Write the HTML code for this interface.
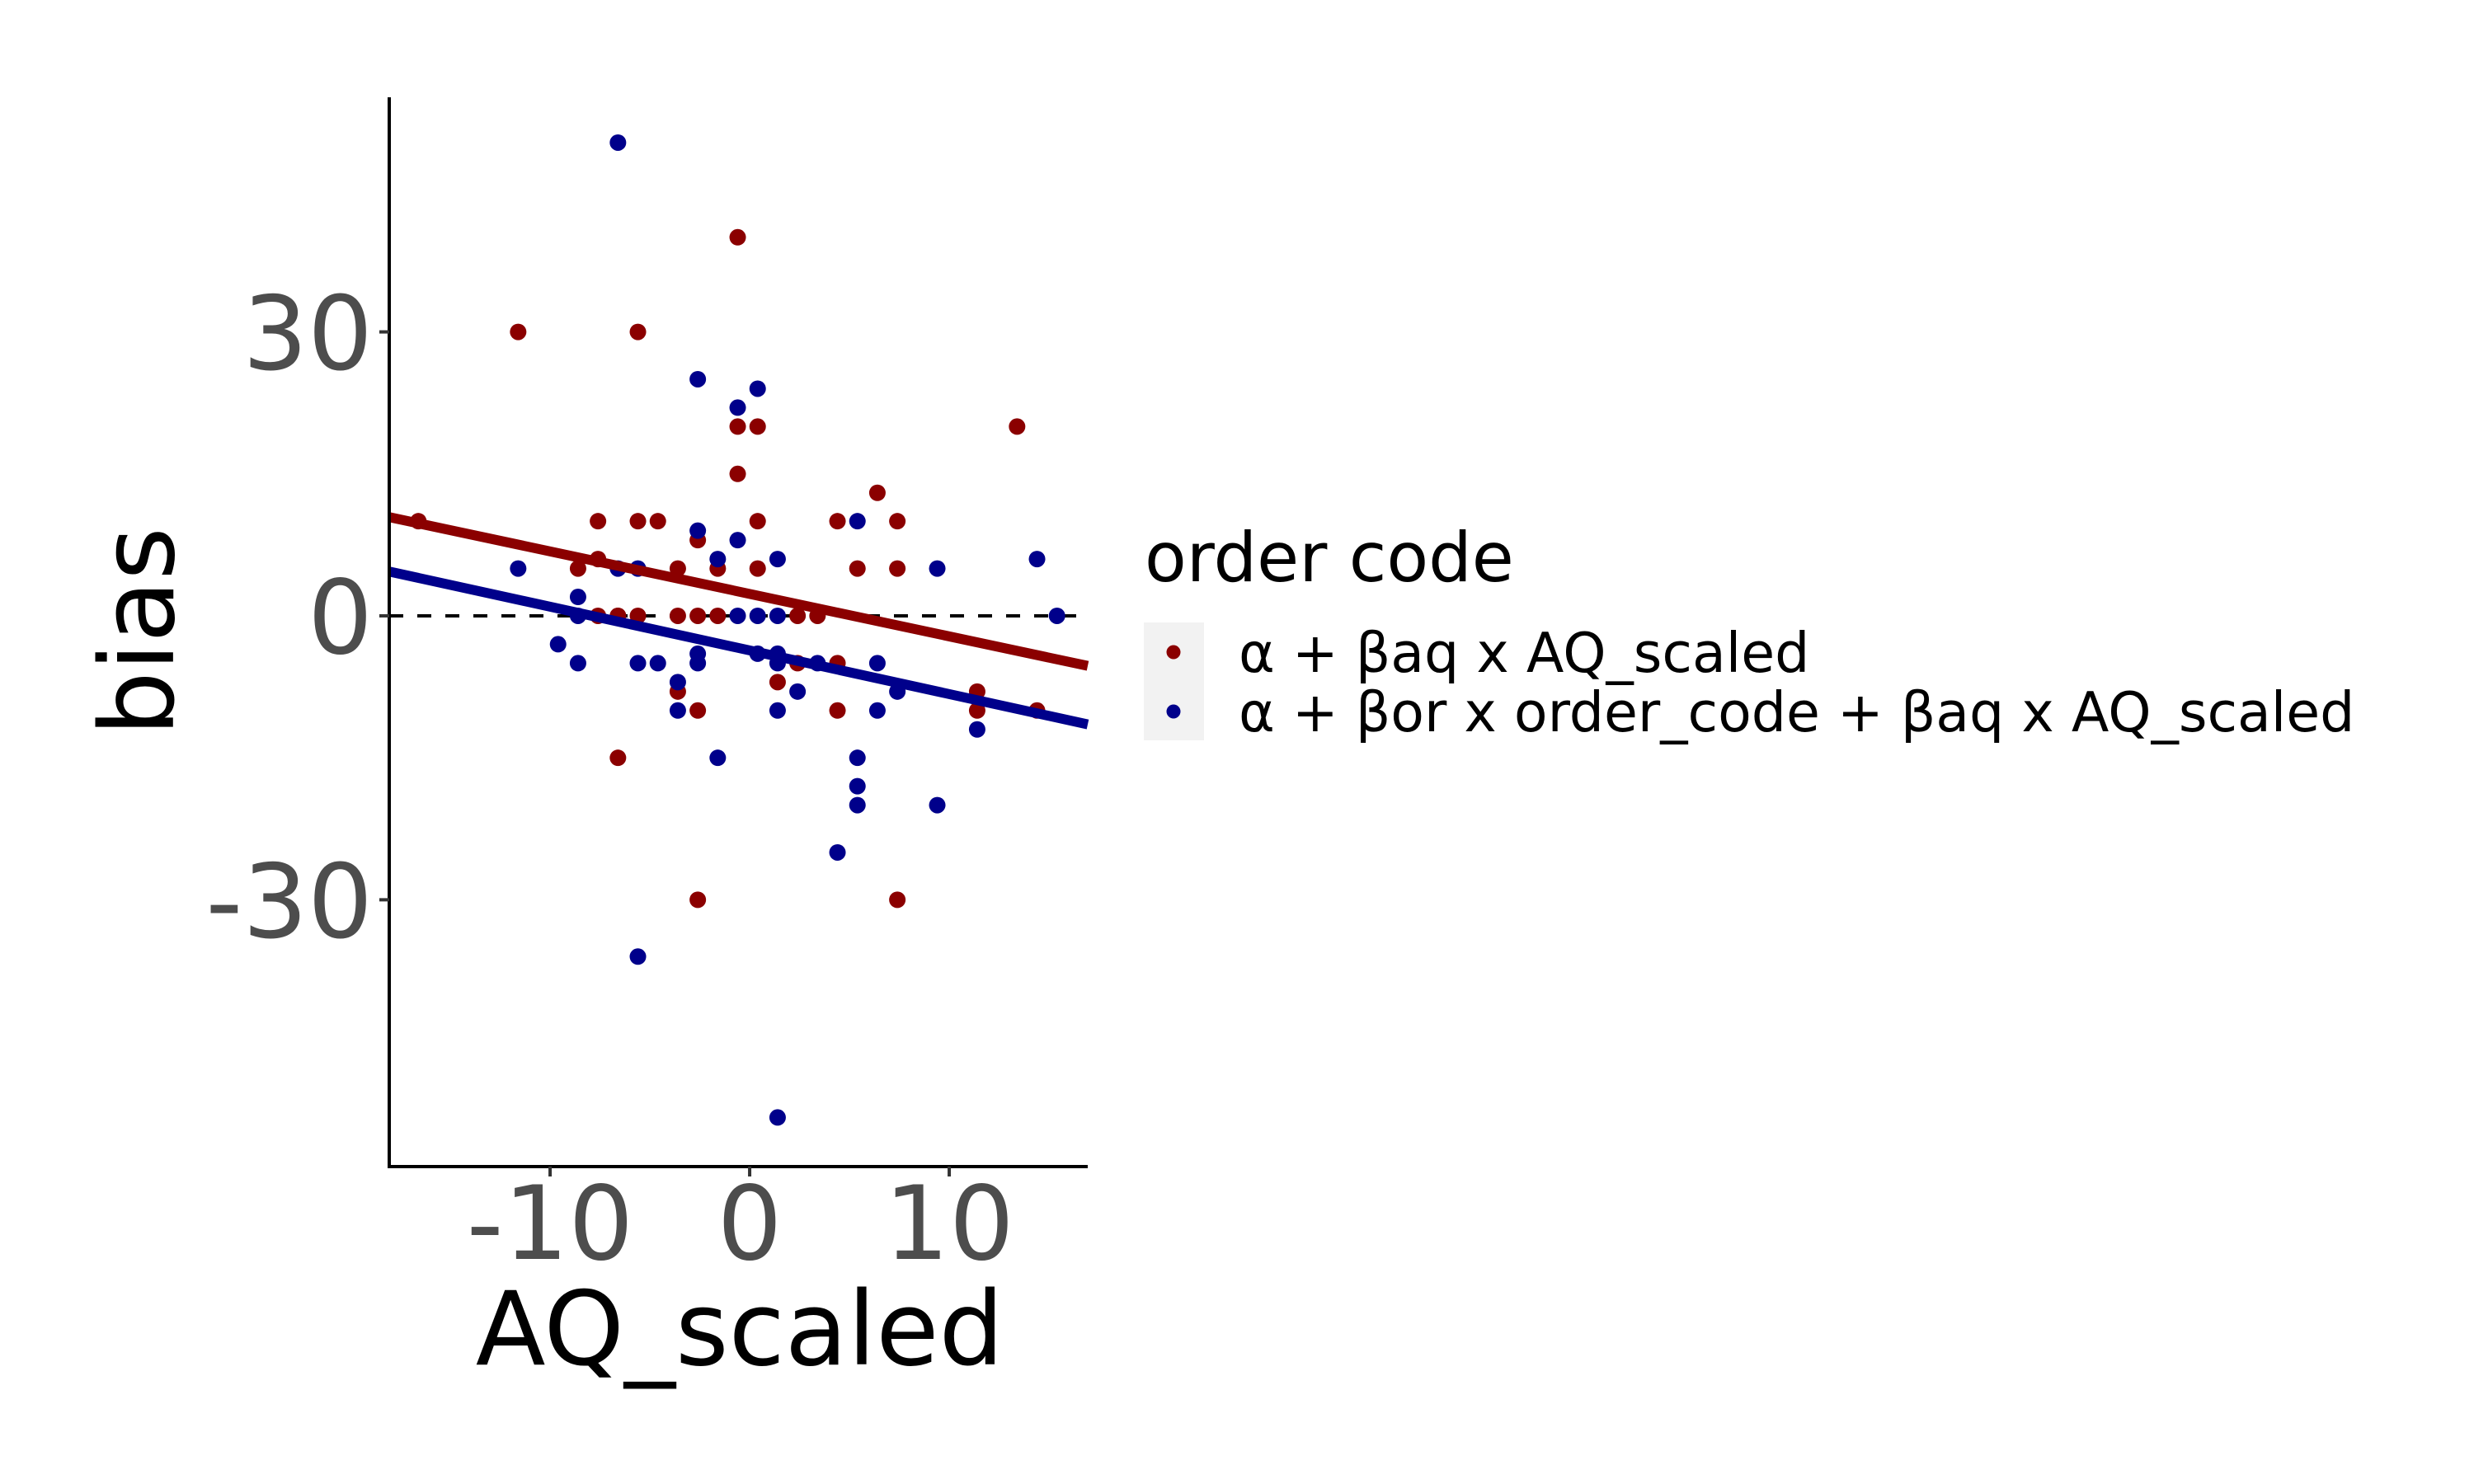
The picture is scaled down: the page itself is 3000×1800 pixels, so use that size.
<!DOCTYPE html>
<html><head><meta charset="utf-8"><style>
html,body{margin:0;padding:0;background:#fff;}
svg{display:block;font-family:"DejaVu Sans","Liberation Sans",sans-serif;}
</style></head><body>
<svg id="chart" width="3000" height="1800" viewBox="0 0 3000 1800" xmlns="http://www.w3.org/2000/svg">
<rect x="0" y="0" width="3000" height="1800" fill="#fff"/>
<g id="plot"></g>
<g id="axes"></g>
<text x="897" y="1655" font-size="124" text-anchor="middle" fill="#000">AQ_scaled</text>
<text transform="translate(210,766) rotate(-90)" font-size="124" text-anchor="middle" fill="#000">bias</text>
<g>
<text x="1388" y="705" font-size="83" fill="#000">order code</text>
<rect x="1387" y="755" width="73" height="143" fill="#f2f2f2"/>
<g>
<circle cx="1423" cy="791" r="8.5" fill="#8b0000"/>
<text x="1502" y="815" font-size="66.5" fill="#000">α + βaq x AQ_scaled</text>
</g>
<g>
<circle cx="1423" cy="863" r="8.5" fill="#00008b"/>
<text x="1502" y="887" font-size="66.5" fill="#000">α + βor x order_code + βaq x AQ_scaled</text>
</g>
</g>
</svg>
<script>
const redX = [-6.6,-0.6,-11.6,-5.6,-0.6,0.4,13.4,-0.6,6.4,-16.6,-7.6,-5.6,-4.6,0.4,4.4,7.4,-2.6,-7.6,-8.6,-3.6,-1.6,0.4,5.4,7.4,-7.6,-6.6,-5.6,-3.6,-2.6,-1.6,2.4,3.4,2.4,4.4,1.4,-3.6,11.4,-2.6,4.4,11.4,14.4,-6.6,-2.6,7.4];
const redY = [0,40,30,30,20,20,20,15,13,10,10,10,10,10,10,10,8,6,5,5,5,5,5,5,0,0,0,0,0,0,0,0,-5,-5,-7,-8,-8,-10,-10,-10,-10,-15,-30,-30];
const blueX = [-6.6,-2.6,0.4,-0.6,5.4,-2.6,-0.6,-1.6,1.4,14.4,-11.6,-6.6,-5.6,9.4,-8.6,-8.6,-0.6,0.4,1.4,15.4,-9.6,-2.6,0.4,1.4,-8.6,-5.6,-4.6,-2.6,1.4,3.4,6.4,-3.6,2.4,7.4,-3.6,1.4,6.4,11.4,-1.6,5.4,5.4,5.4,9.4,4.4,-5.6,1.4];
const blueY = [50,25,24,22,10,9,8,6,6,6,5,5,5,5,2,0,0,0,0,0,-3,-4,-4,-4,-5,-5,-5,-5,-5,-5,-5,-7,-8,-8,-10,-10,-10,-12,-15,-15,-18,-20,-20,-25,-36,-53];
const lineNames = ["red-fit-line","blue-fit-line"];
const lineIntercepts = [2.32,-3.65];
const lineSlopes = [-0.449,-0.4615];
const xTicks = [-10,0,10];
const xTickLabels = ["-10","0","10"];
const yTicks = [30,0,-30];
const yTickLabels = ["30","0","-30"];

const X0=472, X1=1319, Y0=118, Y1=1415;
const xMin=-18.06, xMax=16.94, yMin=-58.19, yMax=54.79;
function sx(v){return X0+(v-xMin)/(xMax-xMin)*(X1-X0);}
function sy(v){return Y1-(v-yMin)/(yMax-yMin)*(Y1-Y0);}
const NS="http://www.w3.org/2000/svg";
function mk(tag,attrs,parent){const e=document.createElementNS(NS,tag);for(const k in attrs)e.setAttribute(k,attrs[k]);parent.appendChild(e);return e;}
const plot=document.getElementById('plot');
const axes=document.getElementById('axes');

const zl=mk('line',{x1:X0,x2:X1,y1:sy(0),y2:sy(0),stroke:'#000','stroke-width':4,'stroke-dasharray':'17 17'},plot);



const colors=['#8b0000','#00008b'];
for(let i=0;i<redX.length;i++){
  const c=mk('circle',{cx:sx(redX[i]),cy:sy(redY[i]),r:10,fill:colors[0]},plot);
  
  
}
for(let i=0;i<blueX.length;i++){
  const c=mk('circle',{cx:sx(blueX[i]),cy:sy(blueY[i]),r:10,fill:colors[1]},plot);
  
  
}
for(let i=0;i<lineNames.length;i++){
  const l=mk('line',{x1:sx(xMin),y1:sy(lineIntercepts[i]+lineSlopes[i]*xMin),x2:sx(xMax),y2:sy(lineIntercepts[i]+lineSlopes[i]*xMax),stroke:colors[i],'stroke-width':12},plot);
  
  
}
const xa=mk('line',{x1:X0-2,x2:X1,y1:Y1,y2:Y1,stroke:'#000','stroke-width':4},axes);


const ya=mk('line',{x1:X0,x2:X0,y1:Y0,y2:Y1+2,stroke:'#000','stroke-width':4},axes);


for(let i=0;i<xTicks.length;i++){
  const t=mk('line',{x1:sx(xTicks[i]),x2:sx(xTicks[i]),y1:Y1,y2:Y1+12,stroke:'#333','stroke-width':4},axes);
  
  
  const tx=mk('text',{x:sx(xTicks[i]),y:1527,'font-size':124,'text-anchor':'middle',fill:'#4d4d4d'},axes);
  tx.textContent=xTickLabels[i];
  
  
}
for(let i=0;i<yTicks.length;i++){
  const t=mk('line',{x1:X0-12,x2:X0,y1:sy(yTicks[i]),y2:sy(yTicks[i]),stroke:'#333','stroke-width':4},axes);
  
  
  const tx=mk('text',{x:452,y:sy(yTicks[i])+45,'font-size':124,'text-anchor':'end',fill:'#4d4d4d'},axes);
  tx.textContent=yTickLabels[i];
  
  
}
</script>
</body></html>
